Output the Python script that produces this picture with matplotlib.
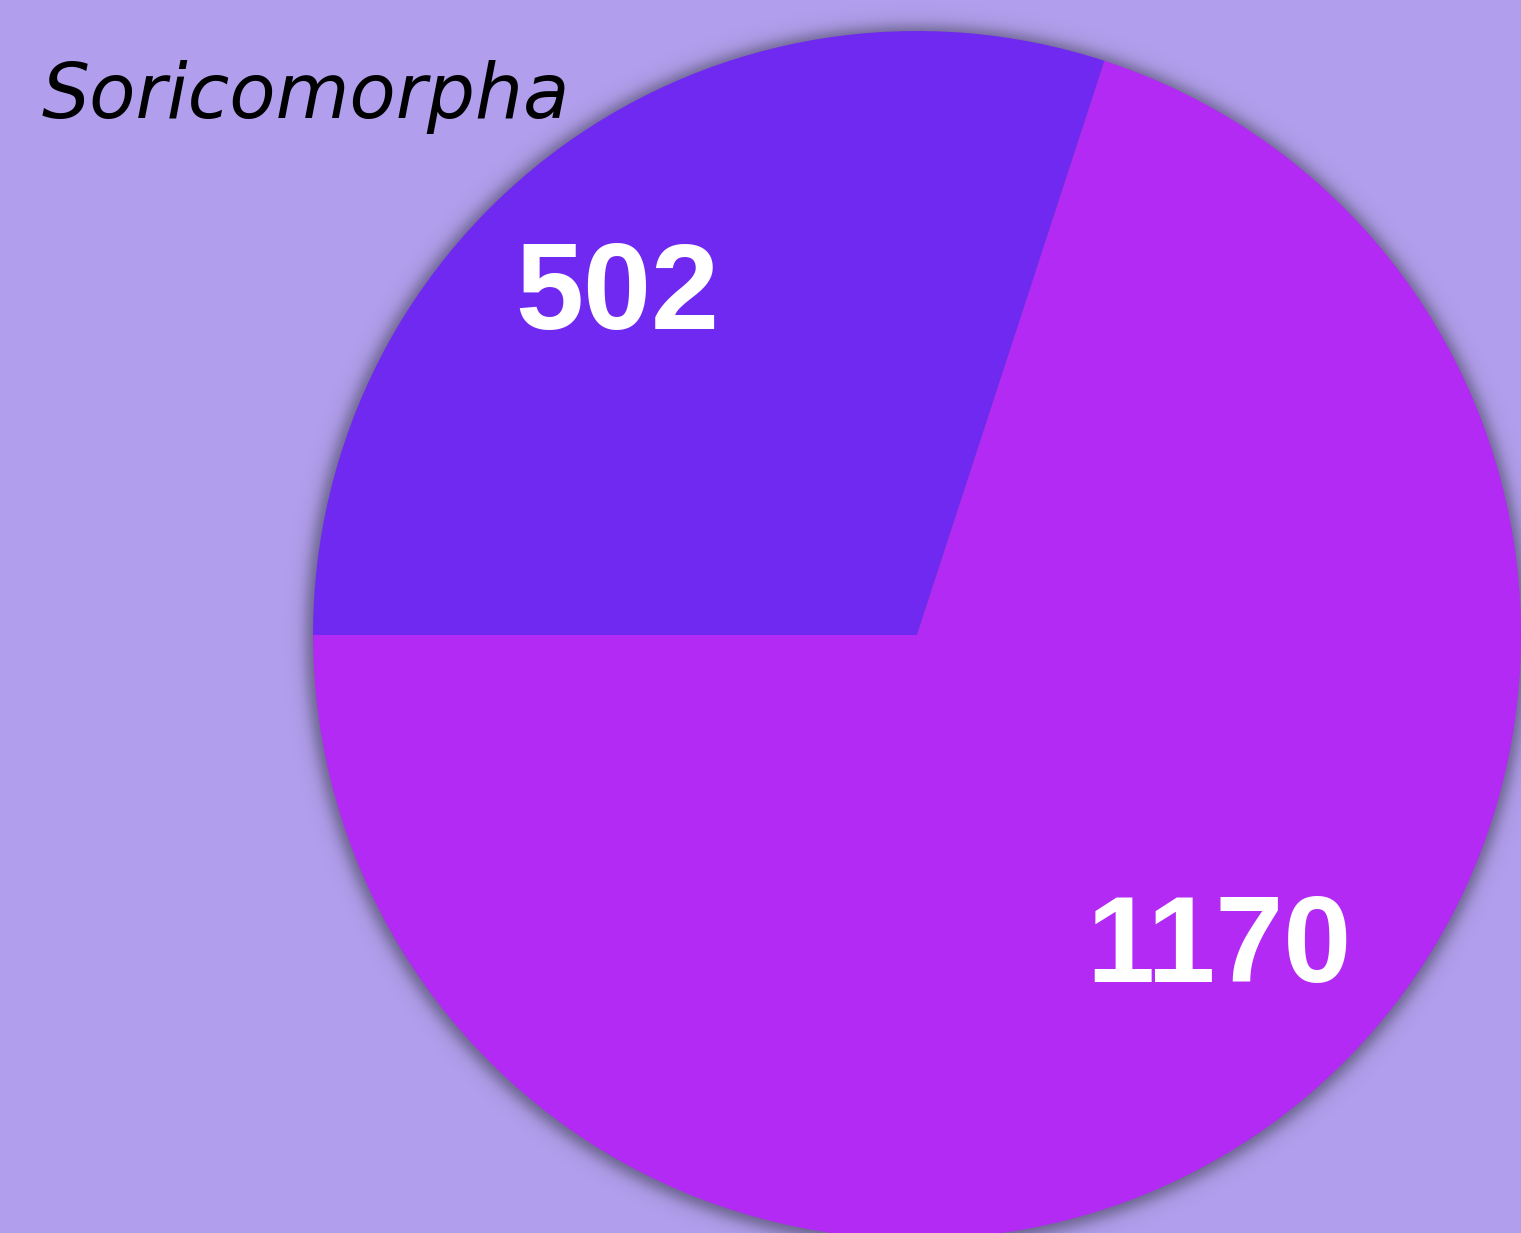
import numpy as np
import matplotlib
matplotlib.use("Agg")
import matplotlib.pyplot as plt

title = "Soricomorpha"
labels = ["502", "1170"]
values = [502, 1170]
colors = ["#7029F0", "#B22AF3"]
bg = "#B19EEC"

W, H = 1521, 1233
fig = plt.figure(figsize=(W / 100, H / 100), dpi=100)
fig.patch.set_facecolor(bg)
ax = fig.add_axes([0, 0, 1, 1])
ax.set_facecolor(bg)
ax.set_xlim(0, W)
ax.set_ylim(0, H)
ax.set_aspect("equal")
ax.axis("off")

cx, cy, r = 917, H - 635, 604

# soft shadow
yy, xx = np.mgrid[0:H, 0:W]
d = np.hypot(xx - (cx - 1), (H - yy) - (cy - 1))
alpha = 0.9 / (1 + np.exp((d - (r + 6)) / 4.5))
img = np.zeros((H, W, 4))
img[..., 0] = 95 / 255
img[..., 1] = 90 / 255
img[..., 2] = 125 / 255
img[..., 3] = alpha
ax.imshow(img, extent=(0, W, 0, H), origin="upper", zorder=1)

wedges, _ = ax.pie(values, colors=colors, startangle=180, counterclock=False,
                   center=(cx, cy), radius=r, wedgeprops=dict(linewidth=0))
for w in wedges:
    w.set_zorder(2)
ax.set_xlim(0, W)
ax.set_ylim(0, H)
ax.set_aspect("equal")
ax.axis("off")

pos = [(617, H - 297), (1219, H - 950)]
for lab, (x, y) in zip(labels, pos):
    ax.text(x, y, lab, ha="center", va="center", color="white", fontsize=88,
            fontweight="bold", family="Liberation Sans", zorder=3)

ax.text(42, H - 118, title, ha="left", va="baseline", color="black", fontsize=54.5,
        style="italic", family="DejaVu Sans", zorder=3)

fig.savefig("out.png", dpi=100, facecolor=bg)
